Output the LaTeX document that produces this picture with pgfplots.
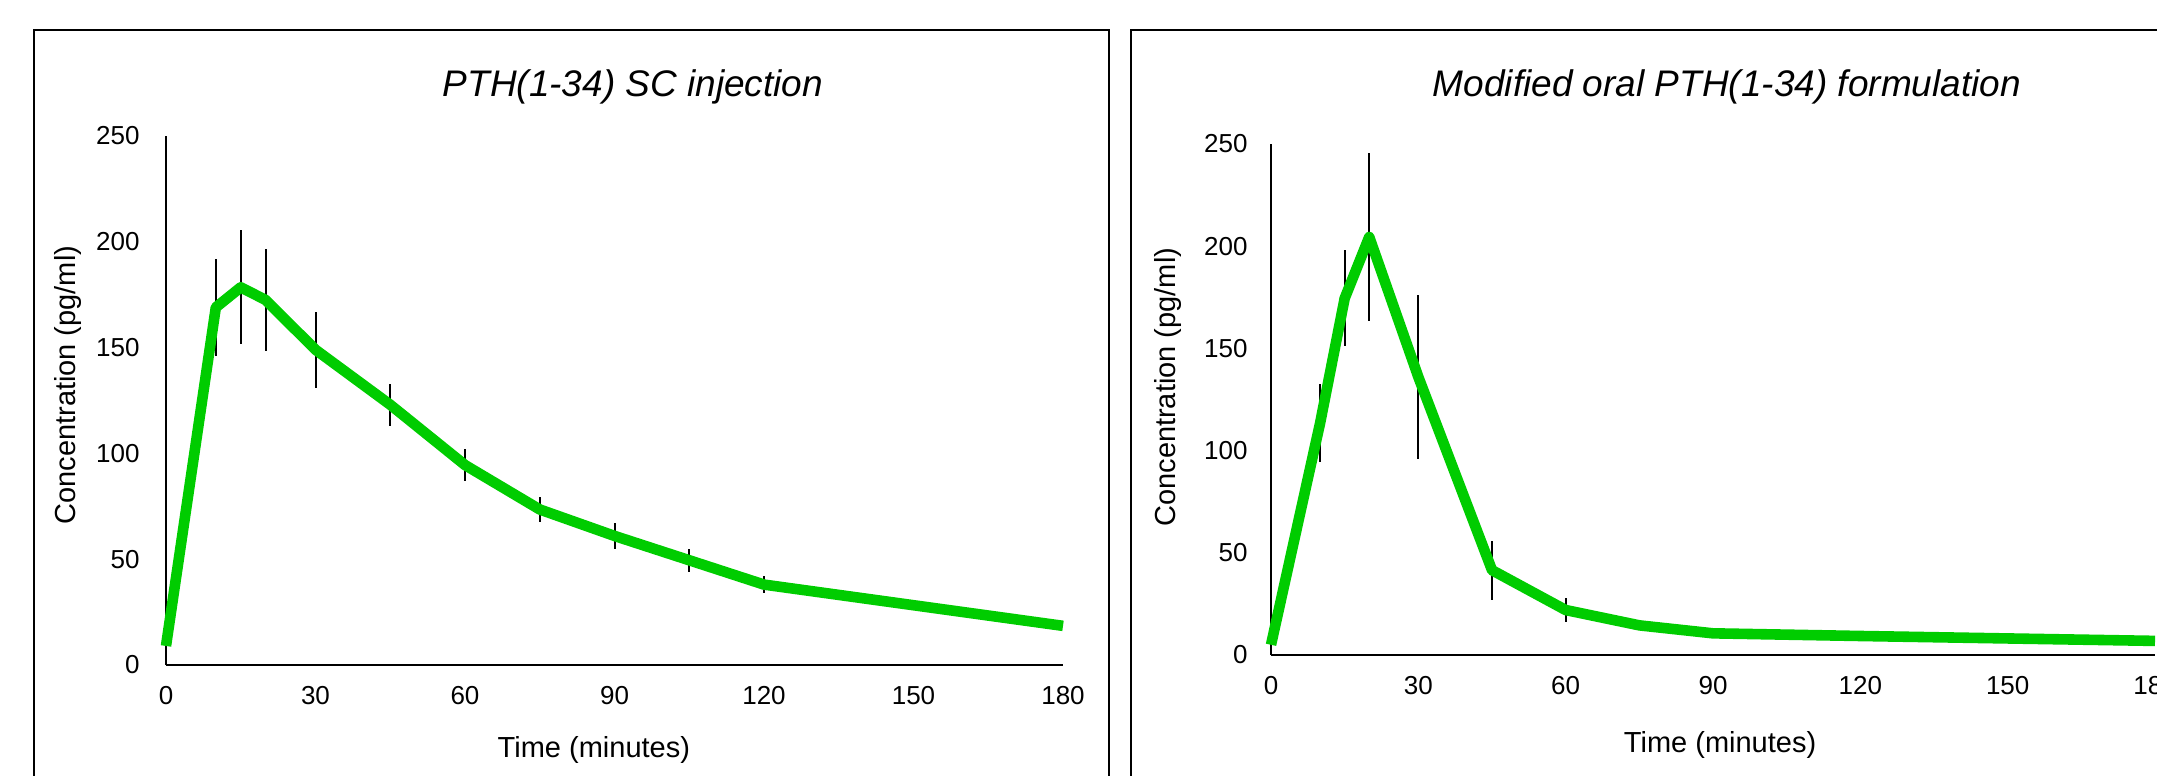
\documentclass[border=0pt]{standalone}
\usepackage{fontspec}
\setmainfont{Liberation Sans}
\usepackage{pgfplots}
\usepackage{pgfplotstable}
\pgfplotsset{compat=1.18}
\definecolor{pkgreen}{RGB}{0,204,0}

% time (min), mean concentration (pg/ml), error
\pgfplotstableread{
t c e
0 9 0
10 169 23
15 178.5 27
20 172.5 24
30 149 18
45 123 10
60 94.5 7.5
75 73.5 6
90 61 6
105 49.5 5.5
120 38 4
180 18.5 0
}\sctab

\pgfplotstableread{
t c e
0 5 0
10 113.5 19
15 174.5 23.5
20 204.5 41
30 136 40
45 41.5 14.5
60 22 6
75 14.5 0
90 10.6 0
120 9.3 0
180 6.9 0
}\oraltab

\pgfplotsset{pk/.style={
  scale only axis, axis x line=bottom, axis y line=left,
  axis line style={-, line width=0.85pt, black},
  xmin=0, xmax=180, ymin=0, ymax=250,
  xtick={0,30,...,180}, ytick={0,50,...,250},
  major tick length=0pt,
  /pgf/number format/assume math mode=true,
  ticklabel style={font=\fontsize{13}{15}\selectfont, inner sep=0pt},
  xticklabel style={anchor=north, yshift=-10.5pt},
  label style={font=\fontsize{14.5}{17}\selectfont},
  xlabel={Time (minutes)}, ylabel={Concentration (pg/ml)},
  title style={font=\fontsize{18.5}{22}\selectfont\itshape, anchor=base, inner sep=0pt, yshift=0pt},
  clip=false,
},
ebar/.style={draw=none, mark=none, forget plot,
  error bars/.cd, y dir=both, y explicit, error mark=none,
  error bar style={draw=black, line width=1pt}},
pkline/.style={pkgreen, line width=5.3pt, line join=round, mark=none}}

\begin{document}
\begin{tikzpicture}
\useasboundingbox (0,0) rectangle (1078.5pt,388pt);

\begin{axis}[pk, at={(83pt,55.5pt)}, anchor=south west,
  width=448.5pt, height=264.5pt,
  yticklabel style={anchor=east, xshift=-13pt},
  title={PTH(1-34) SC injection},
  title style={at={(axis description cs:0.5206,1.0515)}},
  ylabel style={at={(axis description cs:-0.1093,0.529)}, anchor=center},
  xlabel style={at={(axis description cs:0.477,-0.161)}, anchor=center}]
\addplot[ebar] table[x=t, y=c, y error=e] {\sctab};
\addplot[pkline] table[x=t, y=c] {\sctab};
\end{axis}

\begin{axis}[pk, at={(635.5pt,60.5pt)}, anchor=south west,
  width=442pt, height=255.5pt,
  yticklabel style={anchor=east, xshift=-11.5pt},
  title={Modified oral PTH(1-34) formulation},
  title style={at={(axis description cs:0.5158,1.069)}},
  ylabel style={at={(axis description cs:-0.1165,0.524)}, anchor=center},
  xlabel style={at={(axis description cs:0.508,-0.176)}, anchor=center}]
\addplot[ebar] table[x=t, y=c, y error=e] {\oraltab};
\addplot[pkline] table[x=t, y=c] {\oraltab};
\end{axis}

\draw[line width=0.7pt] (17pt,-5pt) rectangle (554.5pt,373pt);
\draw[line width=0.7pt] (565.5pt,-5pt) rectangle (1095pt,373pt);
\end{tikzpicture}
\end{document}
